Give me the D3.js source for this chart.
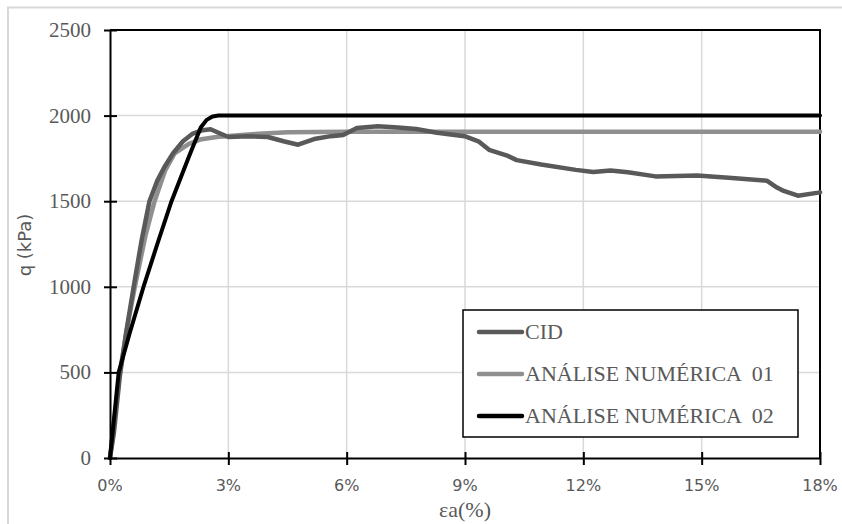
<!DOCTYPE html>
<html>
<head>
<meta charset="utf-8">
<script src="https://cdn.jsdelivr.net/npm/d3@7"></script>
</head>
<body style="margin:0">
<script>
// Data (strain in %, q in kPa)
var cidStrain = [0, 0.1, 0.25, 0.4, 0.6, 0.8, 1.0, 1.2, 1.38, 1.6, 1.85, 2.1, 2.35, 2.55, 2.75, 3.0, 3.5, 4.0, 4.4, 4.77, 5.21, 5.6, 5.91, 6.26, 6.79, 7.3, 7.76, 8.29, 8.99, 9.34, 9.61, 10.05, 10.31, 10.93, 11.81, 12.25, 12.69, 13.13, 13.83, 14.89, 15.77, 16.65, 16.91, 17.08, 17.44, 17.96, 18];
var cidQ = [0, 150, 480, 720, 1000, 1270, 1500, 1620, 1700, 1780, 1850, 1895, 1915, 1920, 1900, 1875, 1880, 1875, 1850, 1830, 1865, 1880, 1887, 1928, 1938, 1930, 1922, 1900, 1880, 1850, 1800, 1768, 1740, 1714, 1683, 1670, 1679, 1669, 1645, 1650, 1635, 1620, 1580, 1560, 1532, 1550, 1552];

var num01Strain = [0, 0.1, 0.25, 0.45, 0.63, 0.9, 1.13, 1.4, 1.64, 2.0, 2.28, 2.7, 3.5, 4.5, 6, 18];
var num01Q = [0, 200, 500, 780, 1000, 1300, 1500, 1680, 1780, 1835, 1860, 1875, 1890, 1903, 1905, 1905];

var num02Strain = [0, 0.22, 0.5, 0.85, 1.2, 1.56, 2.0, 2.3, 2.45, 2.6, 2.75, 18];
var num02Q = [0, 500, 730, 1000, 1250, 1500, 1760, 1930, 1975, 1995, 2000, 2000];

var xTicks = [0, 3, 6, 9, 12, 15, 18];
var yTicks = [0, 500, 1000, 1500, 2000, 2500];

var seriesNames = ["CID", "ANÁLISE NUMÉRICA  01", "ANÁLISE NUMÉRICA  02"];
var seriesColors = ["#595959", "#8f8f8f", "#000000"];

var style = {
    width: 842,
    height: 524,
    left: 110,
    right: 820,
    top: 30,
    bottom: 458,
    grid: "#d9d9d9",
    text: "#595959",
    serif: "Liberation Serif",
    sans: "DejaVu Sans"
};

var svg = d3.select("body").append("svg")
    .attr("width", style.width)
    .attr("height", style.height)
    .attr("font-family", style.serif)
    .style("display", "block");

// Outer chart border
svg.append("rect")
    .attr("x", 8).attr("y", 7.5)
    .attr("width", 900).attr("height", 600)
    .attr("fill", "#fff")
    .attr("stroke", "#d9d9d9")
    .attr("stroke-width", 2);

var x = d3.scaleLinear().domain([0, 18]).range([style.left, style.right]);
var y = d3.scaleLinear().domain([0, 2500]).range([style.bottom, style.top]);

// serif text helper
function serifText(g, tx, ty, str, anchor, size) {
    return g.append("text")
        .attr("x", tx)
        .attr("y", ty)
        .attr("text-anchor", anchor)
        .attr("font-family", style.serif)
        .attr("font-size", size)
        .attr("fill", style.text)
        .text(str);
}

// Gridlines
svg.append("g").selectAll("line.v")
    .data(xTicks.slice(1, -1))
    .enter().append("line")
    .attr("x1", function(d) { return x(d); })
    .attr("x2", function(d) { return x(d); })
    .attr("y1", style.top).attr("y2", style.bottom)
    .attr("stroke", style.grid).attr("stroke-width", 1.5);

svg.append("g").selectAll("line.h")
    .data(yTicks.slice(1, -1))
    .enter().append("line")
    .attr("x1", style.left).attr("x2", style.right)
    .attr("y1", function(d) { return y(d); })
    .attr("y2", function(d) { return y(d); })
    .attr("stroke", style.grid).attr("stroke-width", 1.5);

// Frame top / right
svg.append("path")
    .attr("d", "M" + style.left + "," + y(2500) + "H" + x(18) + "V" + style.bottom)
    .attr("fill", "none")
    .attr("stroke", "#000")
    .attr("stroke-width", 2);

// Series
var line = d3.line()
    .x(function(d) { return x(d[0]); })
    .y(function(d) { return y(d[1]); });

var series = [
    d3.zip(cidStrain, cidQ),
    d3.zip(num01Strain, num01Q),
    d3.zip(num02Strain, num02Q)
];

// draw NUM01 first, then CID, then NUM02 on top
[1, 0, 2].forEach(function(i) {
    svg.append("path")
        .datum(series[i])
        .attr("d", line)
        .attr("fill", "none")
        .attr("stroke", seriesColors[i])
        .attr("stroke-width", i == 2 ? 4 : 4.5)
        .attr("stroke-linejoin", "round")
        .attr("stroke-linecap", "round");
});

// Axes (lines and ticks only, labels drawn below)
var xAxis = svg.append("g")
    .attr("transform", "translate(0," + style.bottom + ")")
    .call(d3.axisBottom(x).tickValues(xTicks).tickSize(0).tickFormat(""));
xAxis.select(".domain").attr("stroke", "#000").attr("stroke-width", 2);
xAxis.selectAll(".tick line").remove();
xAxis.selectAll(".tick").append("line")
    .attr("y1", -6).attr("y2", 7)
    .attr("stroke", "#000").attr("stroke-width", 2);

var yAxis = svg.append("g")
    .attr("transform", "translate(" + style.left + ",0)")
    .call(d3.axisLeft(y).tickValues(yTicks).tickSize(0).tickFormat(""));
yAxis.select(".domain").attr("stroke", "#000").attr("stroke-width", 2);
yAxis.selectAll(".tick line").remove();
yAxis.selectAll(".tick").append("line")
    .attr("x1", -6).attr("x2", 7)
    .attr("stroke", "#000").attr("stroke-width", 2);

// Tick labels
xTicks.forEach(function(d) {
    svg.append("text")
        .attr("x", x(d))
        .attr("y", style.bottom + 33)
        .attr("text-anchor", "middle")
        .attr("font-family", style.sans)
        .attr("font-size", 16)
        .attr("fill", style.text)
        .text(d + "%");
});

yTicks.forEach(function(d) {
    serifText(svg, 91, y(d) + 7, d, "end", 21);
});

// Axis titles
serifText(svg, 465, 517, "εa(%)", "middle", 22);

svg.append("text")
    .attr("transform", "translate(31,245) rotate(-90)")
    .attr("text-anchor", "middle")
    .attr("font-family", style.sans)
    .attr("font-size", 18)
    .attr("fill", style.text)
    .text("q (kPa)");

// Legend
var legend = svg.append("g");
legend.append("rect")
    .attr("x", 463).attr("y", 310)
    .attr("width", 335).attr("height", 127)
    .attr("fill", "#fff")
    .attr("stroke", "#000")
    .attr("stroke-width", 1.5);

seriesNames.forEach(function(name, i) {
    var ly = 332 + i * 42;
    legend.append("line")
        .attr("x1", 479).attr("x2", 522)
        .attr("y1", ly).attr("y2", ly)
        .attr("stroke", seriesColors[i])
        .attr("stroke-width", 4.5)
        .attr("stroke-linecap", "round");
    serifText(legend, 525, ly + 7, name, "start", 22)
        .attr("xml:space", "preserve");
});
</script>
</body>
</html>
